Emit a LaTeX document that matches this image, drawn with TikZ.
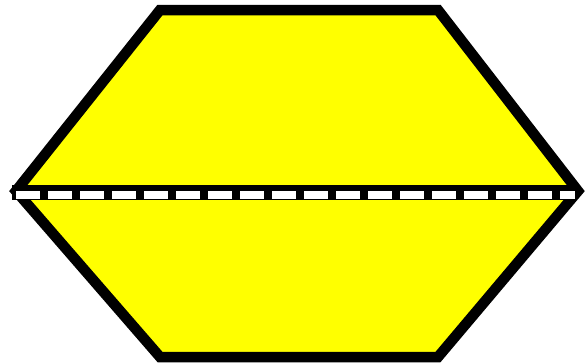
\documentclass[tikz,border=0pt]{standalone}
\usepackage{tikz}
\definecolor{hexYellow}{RGB}{255,255,0}
\tikzset{
    hexEdge/.style={
        draw=black,
        fill=hexYellow,
        line width=10.5pt,
        line join=miter
    },
    cutLine/.style={
        draw=black,
        line width=15pt
    },
    cutDash/.style={
        draw=white,
        line width=8pt,
        dash pattern=on 24pt off 8pt,
        dash phase=28pt
    }
}

\begin{document}
\begin{tikzpicture}[x=1pt, y=-1pt]
            \useasboundingbox (0,0) rectangle (587,364);
            % Coordinates
            \coordinate (tl) at (160,10);
            \coordinate (tr) at (438,10);
            \coordinate (r)  at (578,191);
            \coordinate (br) at (438,357);
            \coordinate (bl) at (160,357);
            \coordinate (l)  at (16,191);
            \coordinate (cutL) at (12,192);
            \coordinate (cutR) at (575,192);
            
            % Hexagon
            \draw[hexEdge] (tl) -- (tr) -- (r) -- (br) -- (bl) -- (l) -- cycle;
            
            % Cut line
            \draw[cutLine] (cutL) -- (cutR);
            \draw[cutDash] ([yshift=-3]cutL) -- ([yshift=-3]cutR);
        \end{tikzpicture}
\end{document}
